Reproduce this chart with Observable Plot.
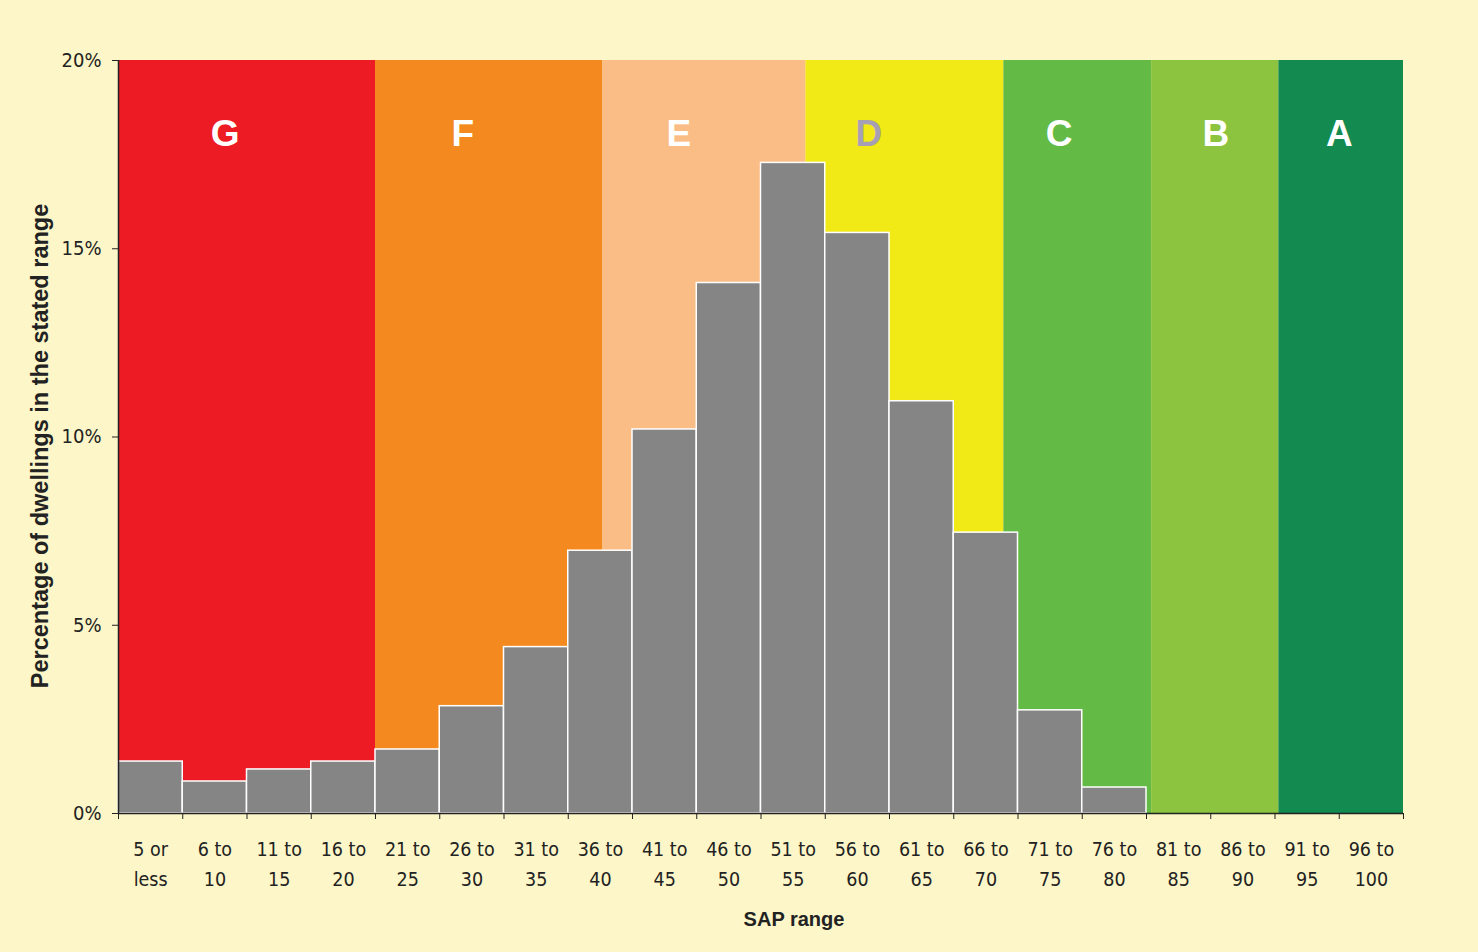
<!DOCTYPE html>
<html>
<head>
<meta charset="utf-8">
<script src="https://cdn.jsdelivr.net/npm/d3@7"></script>
<script src="https://cdn.jsdelivr.net/npm/@observablehq/plot@0.6"></script>
<style>
  html, body { margin: 0; padding: 0; background: #fcf6c8; }
  #chart { width: 1478px; height: 952px; }
</style>
</head>
<body>
<div id="chart"></div>
<script>
// SAP range bins (start of each 5-point bin) and their labels
const binStart = [0, 5, 10, 15, 20, 25, 30, 35, 40, 45, 50, 55, 60, 65, 70, 75, 80, 85, 90, 95];
const binLabels = ["5 or\nless", "6 to\n10", "11 to\n15", "16 to\n20", "21 to\n25", "26 to\n30",
  "31 to\n35", "36 to\n40", "41 to\n45", "46 to\n50", "51 to\n55", "56 to\n60", "61 to\n65",
  "66 to\n70", "71 to\n75", "76 to\n80", "81 to\n85", "86 to\n90", "91 to\n95", "96 to\n100"];
// Percentage of dwellings in each bin
const percentages = [1.38, 0.85, 1.17, 1.38, 1.70, 2.85, 4.42, 6.98, 10.2, 14.09, 17.28, 15.42,
  10.95, 7.46, 2.74, 0.69, 0, 0, 0, 0];

// Energy rating bands
const bandNames = ["G", "F", "E", "D", "C", "B", "A"];
const bandStart = [0, 20, 37.7, 53.5, 68.9, 80.4, 90.3];
const bandEnd = [20, 37.7, 53.5, 68.9, 80.4, 90.3, 100];
const bandColors = ["#ed1c24", "#f48a1f", "#fbbd86", "#f1ea17", "#63bb46", "#8cc43f", "#138a50"];
const bandLabelColors = ["#ffffff", "#ffffff", "#ffffff", "#a79fb3", "#ffffff", "#ffffff", "#ffffff"];
const bandLabelX = [8.3, 26.8, 43.6, 58.4, 73.2, 85.4, 95.0];

const yTicks = [0, 5, 10, 15, 20];

const bars = binStart.map((s, i) => ({lo: s, hi: s + 5, mid: s + 2.5, label: binLabels[i], value: percentages[i]}));
const bands = bandNames.map((n, i) => ({name: n, lo: bandStart[i], hi: bandEnd[i], color: bandColors[i], labelColor: bandLabelColors[i], lx: bandLabelX[i]}));
const boundaries = binStart.concat([100]);

const condensed = "'DejaVu Sans Condensed', 'Liberation Sans Narrow', sans-serif";
const boldFont = "'Liberation Sans', Arial, sans-serif";

const chart = Plot.plot({
  width: 1478,
  height: 952,
  marginLeft: 118,
  marginRight: 75,
  marginTop: 60,
  marginBottom: 139,
  style: {background: "#fcf6c8", color: "#222", fontFamily: condensed},
  x: {domain: [0, 100], axis: null},
  y: {domain: [0, 20], axis: null},
  color: {type: "identity"},
  marks: [
    Plot.rect(bands, {x1: "lo", x2: "hi", y1: 0, y2: 20, fill: "color"}),
    Plot.text(bands, {x: "lx", y: 18.05, text: "name", fill: "labelColor", fontSize: 37, fontWeight: "bold", fontFamily: boldFont}),
    Plot.rect(bars.filter(d => d.value > 0), {x1: "lo", x2: "hi", y1: 0, y2: "value", fill: "#858585", stroke: "#ffffff", strokeWidth: 1.5}),
    Plot.axisY({ticks: yTicks, tickFormat: d => d + "%", tickSize: 6, tickPadding: 11, fontSize: 20, label: null, stroke: "#222"}),
    Plot.axisX({ticks: boundaries, tickFormat: () => "", tickSize: 6, label: null, stroke: "#222"}),
    Plot.text(bars, {x: "mid", y: 0, text: "label", dy: 21, lineAnchor: "top", lineHeight: 1.55, fontSize: 19.5, fill: "#222"}),
    Plot.ruleY([0], {stroke: "#222", strokeWidth: 1.5}),
    Plot.ruleX([0], {stroke: "#222", strokeWidth: 1.5}),
    Plot.text(["Percentage of dwellings in the stated range"], {frameAnchor: "left", textAnchor: "middle", dx: -78, dy: 9, rotate: -90, fontSize: 23.5, fontWeight: "bold", fontFamily: boldFont, fill: "#222"}),
    Plot.text(["SAP range"], {frameAnchor: "bottom", textAnchor: "middle", dx: 33, dy: 112, fontSize: 20, fontWeight: "bold", fontFamily: boldFont, fill: "#222"})
  ]
});
document.getElementById("chart").appendChild(chart);
</script>
</body>
</html>
